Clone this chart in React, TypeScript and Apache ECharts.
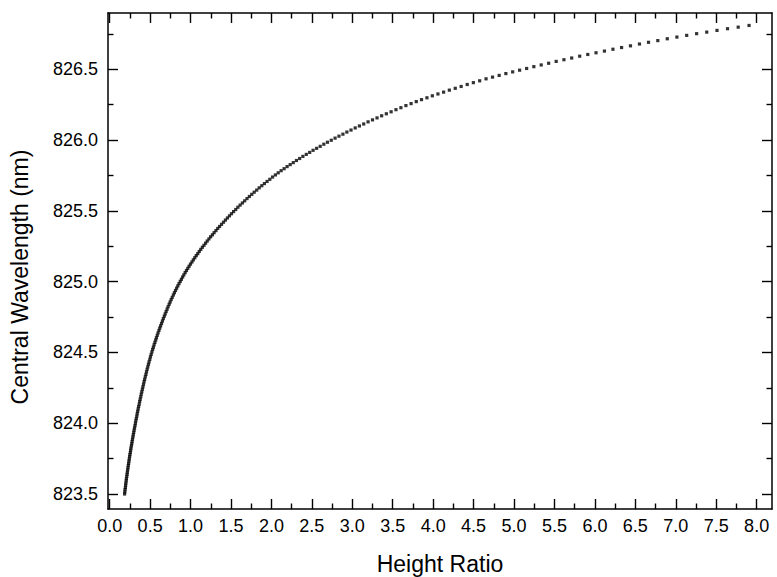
import { useEffect, useRef } from "react";
import * as echarts from "echarts";

// Height ratio (x) and central wavelength in nm (y), one entry per measured point
const ratio = [
  0.184, 0.187, 0.190, 0.194, 0.197, 0.200, 0.204, 0.207, 0.211, 0.215,
  0.218, 0.222, 0.226, 0.230, 0.234, 0.238, 0.242, 0.246, 0.250, 0.255,
  0.259, 0.263, 0.268, 0.273, 0.277, 0.282, 0.287, 0.292, 0.297, 0.302,
  0.307, 0.313, 0.318, 0.323, 0.329, 0.335, 0.340, 0.346, 0.352, 0.358,
  0.365, 0.371, 0.377, 0.384, 0.390, 0.397, 0.404, 0.411, 0.418, 0.425,
  0.432, 0.440, 0.448, 0.455, 0.463, 0.471, 0.479, 0.487, 0.496, 0.504,
  0.513, 0.522, 0.531, 0.540, 0.549, 0.559, 0.569, 0.578, 0.588, 0.598,
  0.609, 0.619, 0.630, 0.641, 0.652, 0.663, 0.675, 0.686, 0.698, 0.710,
  0.722, 0.735, 0.747, 0.760, 0.773, 0.787, 0.800, 0.814, 0.828, 0.842,
  0.857, 0.872, 0.887, 0.902, 0.917, 0.933, 0.949, 0.966, 0.982, 0.999,
  1.017, 1.034, 1.052, 1.070, 1.089, 1.107, 1.126, 1.146, 1.166, 1.186,
  1.206, 1.227, 1.248, 1.270, 1.291, 1.314, 1.336, 1.359, 1.383, 1.407,
  1.431, 1.456, 1.481, 1.506, 1.532, 1.559, 1.585, 1.613, 1.641, 1.669,
  1.698, 1.727, 1.757, 1.787, 1.818, 1.849, 1.881, 1.913, 1.946, 1.980,
  2.014, 2.049, 2.084, 2.120, 2.157, 2.194, 2.232, 2.270, 2.309, 2.349,
  2.389, 2.431, 2.473, 2.515, 2.559, 2.603, 2.648, 2.693, 2.740, 2.787,
  2.835, 2.884, 2.933, 2.984, 3.036, 3.088, 3.141, 3.195, 3.250, 3.306,
  3.363, 3.421, 3.480, 3.540, 3.601, 3.663, 3.727, 3.791, 3.856, 3.923,
  3.990, 4.059, 4.129, 4.200, 4.273, 4.346, 4.421, 4.497, 4.575, 4.654,
  4.734, 4.816, 4.899, 4.983, 5.069, 5.156, 5.245, 5.336, 5.428, 5.521,
  5.617, 5.713, 5.812, 5.912, 6.014, 6.118, 6.223, 6.330, 6.440, 6.551,
  6.663, 6.778, 6.895, 7.014, 7.135, 7.258, 7.383, 7.510, 7.640, 7.772,
  7.906,
];

const wavelength = [
  823.500, 823.515, 823.531, 823.546, 823.562, 823.577, 823.593, 823.608, 823.624, 823.639,
  823.654, 823.670, 823.685, 823.701, 823.716, 823.732, 823.747, 823.763, 823.778, 823.793,
  823.809, 823.824, 823.840, 823.855, 823.871, 823.887, 823.903, 823.919, 823.935, 823.951,
  823.967, 823.983, 824.000, 824.016, 824.033, 824.050, 824.067, 824.084, 824.101, 824.118,
  824.135, 824.153, 824.170, 824.187, 824.205, 824.222, 824.240, 824.257, 824.275, 824.293,
  824.310, 824.328, 824.345, 824.363, 824.381, 824.398, 824.416, 824.433, 824.451, 824.469,
  824.486, 824.504, 824.521, 824.537, 824.554, 824.571, 824.588, 824.604, 824.621, 824.638,
  824.655, 824.672, 824.688, 824.705, 824.722, 824.739, 824.756, 824.772, 824.789, 824.806,
  824.823, 824.840, 824.856, 824.873, 824.889, 824.906, 824.922, 824.938, 824.954, 824.970,
  824.986, 825.002, 825.017, 825.033, 825.048, 825.064, 825.079, 825.094, 825.109, 825.124,
  825.139, 825.154, 825.169, 825.184, 825.198, 825.213, 825.228, 825.243, 825.257, 825.272,
  825.287, 825.302, 825.317, 825.331, 825.346, 825.361, 825.376, 825.390, 825.405, 825.420,
  825.435, 825.450, 825.465, 825.480, 825.495, 825.510, 825.526, 825.541, 825.556, 825.571,
  825.587, 825.602, 825.617, 825.632, 825.647, 825.663, 825.678, 825.693, 825.708, 825.723,
  825.739, 825.754, 825.769, 825.784, 825.798, 825.813, 825.827, 825.841, 825.856, 825.870,
  825.885, 825.899, 825.913, 825.928, 825.942, 825.956, 825.971, 825.985, 825.999, 826.014,
  826.028, 826.042, 826.057, 826.071, 826.086, 826.100, 826.114, 826.129, 826.143, 826.157,
  826.172, 826.186, 826.200, 826.215, 826.229, 826.244, 826.258, 826.272, 826.286, 826.299,
  826.313, 826.326, 826.339, 826.353, 826.366, 826.379, 826.393, 826.406, 826.419, 826.433,
  826.445, 826.457, 826.470, 826.482, 826.494, 826.506, 826.519, 826.531, 826.543, 826.556,
  826.568, 826.580, 826.593, 826.605, 826.617, 826.629, 826.642, 826.654, 826.666, 826.679,
  826.691, 826.703, 826.716, 826.728, 826.740, 826.752, 826.763, 826.775, 826.787, 826.798,
  826.810,
];

// Tick positions (major ticks carry labels, minor ticks sit halfway between)
const xMajorTicks = [0, 0.5, 1, 1.5, 2, 2.5, 3, 3.5, 4, 4.5, 5, 5.5, 6, 6.5, 7, 7.5, 8];
const xMinorTicks = [0.25, 0.75, 1.25, 1.75, 2.25, 2.75, 3.25, 3.75, 4.25, 4.75, 5.25, 5.75, 6.25, 6.75, 7.25, 7.75];
const yMajorTicks = [823.5, 824, 824.5, 825, 825.5, 826, 826.5];
const yMinorTicks = [823.75, 824.25, 824.75, 825.25, 825.75, 826.25, 826.75];

const xTitle = "Height Ratio";
const yTitle = "Central Wavelength (nm)";

const X_MIN = -0.021;
const X_MAX = 8.19;
const Y_MIN = 823.394;
const Y_MAX = 826.898;

const FONT = "'Liberation Sans', Arial, Helvetica, sans-serif";
const INK = "#000";
const MAJOR_LEN = 10;
const MINOR_LEN = 5.5;

function tickLayer(
  kind: "x" | "y",
  position: string,
  ticks: number[],
  length: number,
  withLine: boolean,
  withLabels: boolean
) {
  const isX = kind === "x";
  return {
    type: "value",
    position,
    min: isX ? X_MIN : Y_MIN,
    max: isX ? X_MAX : Y_MAX,
    axisLine: {
      show: withLine,
      onZero: false,
      lineStyle: { color: INK, width: 1.5 },
    },
    axisTick: {
      show: true,
      inside: true,
      length,
      customValues: ticks,
      lineStyle: { color: INK, width: 1.4 },
    },
    axisLabel: withLabels
      ? {
          show: true,
          customValues: ticks,
          margin: isX ? 8 : 10,
          color: INK,
          fontSize: 18,
          fontFamily: FONT,
          formatter: (v: number) => v.toFixed(1),
        }
      : { show: false },
    splitLine: { show: false },
    minorTick: { show: false },
    minorSplitLine: { show: false },
  };
}

export default function App() {
  const ref = useRef<HTMLDivElement>(null);

  useEffect(() => {
    if (!ref.current) return;
    const chart = echarts.init(ref.current, undefined, { renderer: "svg" });
    const points = ratio.map((r, i) => [r, wavelength[i]]);

    chart.setOption({
      animation: false,
      backgroundColor: "#fff",
      grid: { left: 108, top: 13, width: 664, height: 496, containLabel: false },
      xAxis: [
        tickLayer("x", "bottom", xMajorTicks, MAJOR_LEN, true, true),
        tickLayer("x", "bottom", xMinorTicks, MINOR_LEN, false, false),
        tickLayer("x", "top", xMajorTicks, MAJOR_LEN, true, false),
        tickLayer("x", "top", xMinorTicks, MINOR_LEN, false, false),
      ],
      yAxis: [
        tickLayer("y", "left", yMajorTicks, MAJOR_LEN, true, true),
        tickLayer("y", "left", yMinorTicks, MINOR_LEN, false, false),
        tickLayer("y", "right", yMajorTicks, MAJOR_LEN, true, false),
        tickLayer("y", "right", yMinorTicks, MINOR_LEN, false, false),
      ],
      series: [
        {
          type: "scatter",
          xAxisIndex: 0,
          yAxisIndex: 0,
          data: points,
          symbol: "rect",
          symbolSize: 3.2,
          itemStyle: { color: INK },
          silent: true,
        },
      ],
      graphic: [
        {
          type: "text",
          x: 440,
          y: 564,
          style: {
            text: xTitle,
            fontSize: 23,
            fontFamily: FONT,
            fill: INK,
            align: "center",
            verticalAlign: "middle",
          },
        },
        {
          type: "text",
          x: 20,
          y: 277,
          rotation: Math.PI / 2,
          style: {
            text: yTitle,
            fontSize: 23,
            fontFamily: FONT,
            fill: INK,
            align: "center",
            verticalAlign: "middle",
          },
        },
      ],
    });

    return () => chart.dispose();
  }, []);

  return (
    <div
      ref={ref}
      style={{ position: "fixed", left: 0, top: 0, width: 777, height: 577, background: "#fff" }}
    />
  );
}
